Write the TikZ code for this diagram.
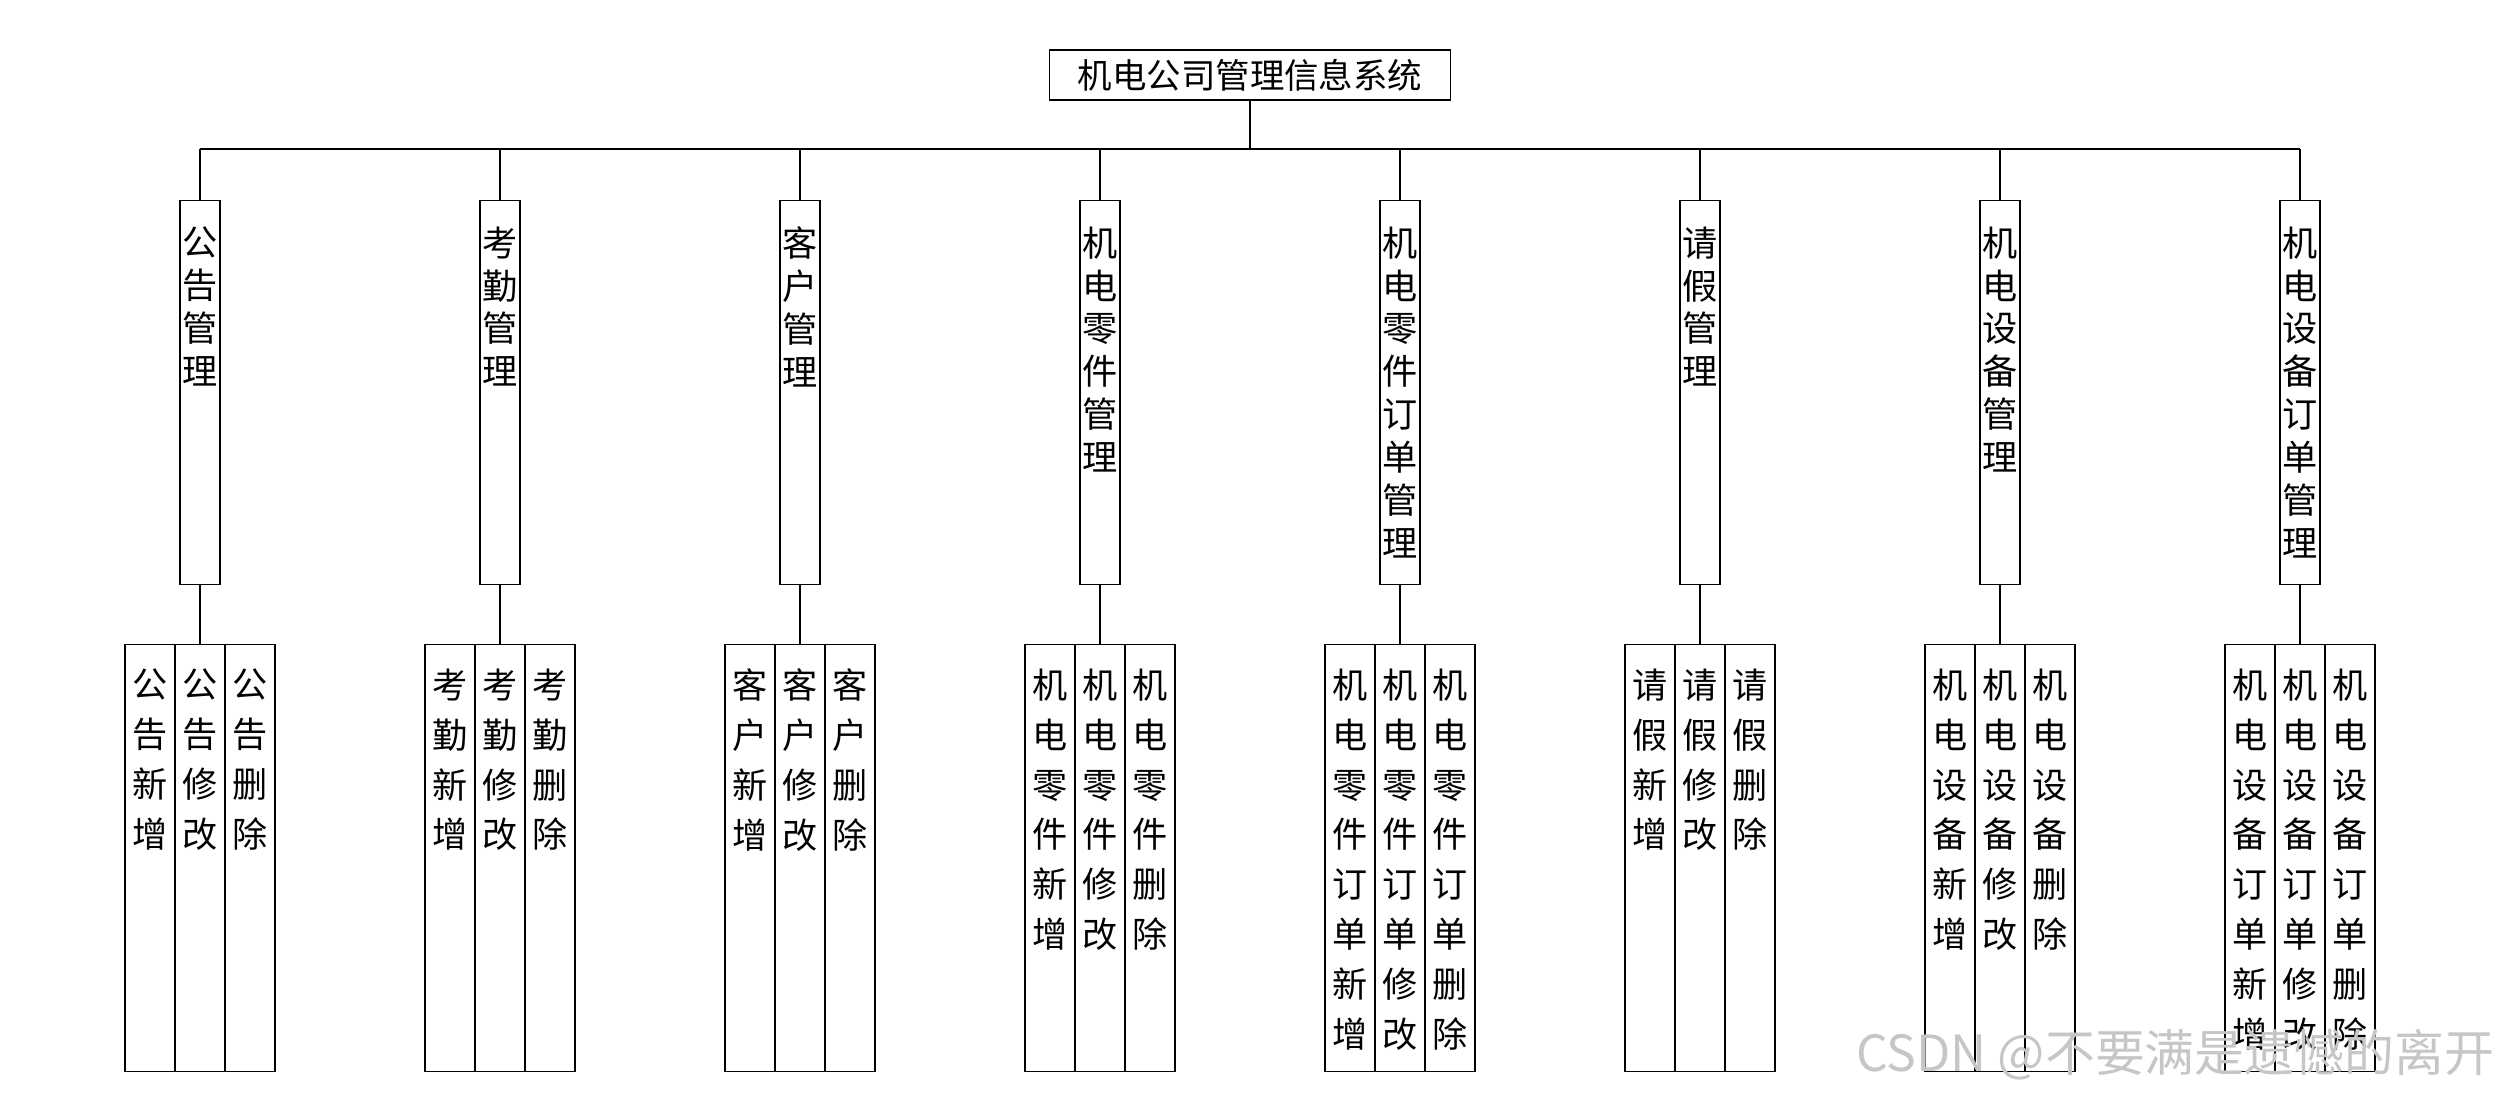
\documentclass[tikz,border=0pt]{standalone}
\usepackage{fontspec}
\newfontfamily\cjk{Noto Sans CJK SC}
\usetikzlibrary{positioning}

\begin{document}
\begin{tikzpicture}[x=1cm,y=1cm,
  sysbox/.style={draw,inner sep=0pt,minimum width=4.01cm,minimum height=0.5cm,font=\cjk\fontsize{9.8pt}{12pt}\selectfont},
  modbox/.style={draw,inner sep=0pt,minimum width=0.4cm,minimum height=3.84cm,anchor=north},
  opbox/.style={draw,inner sep=0pt,minimum width=0.5cm,minimum height=4.27cm,anchor=north},
  modtxt/.style={anchor=north,inner sep=0pt,align=center,font=\cjk\fontsize{10pt}{12.2pt}\selectfont},
  optxt/.style={anchor=north,inner sep=0pt,align=center,font=\cjk\fontsize{10pt}{14.2pt}\selectfont}]
\useasboundingbox (0,0) rectangle (25,11);
\node[sysbox] (sys) at (12.5,10.25) {机电公司管理信息系统};
\coordinate (bus) at (12.5,9.51);
\draw (sys.south) -- (bus);
% modules and their operations
\foreach \i/\x/\pre in {1/2/{公\\告},2/5/{考\\勤},3/8/{客\\户},4/11/{机\\电\\零\\件},
    5/14/{机\\电\\零\\件\\订\\单},6/17/{请\\假},7/20/{机\\电\\设\\备},8/23/{机\\电\\设\\备\\订\\单}} {
  \node[modbox] (m\i) at (\x,9) {};
  \node[modtxt] (mt\i) at ([yshift=-0.26cm]m\i.north) {\pre\\管\\理};
  \draw (m\i.north) -- (m\i.north |- bus);
  \foreach \j/\dx/\op in {1/-0.5/{新\\增},2/0/{修\\改},3/0.5/{删\\除}} {
    \node[opbox] (s\i-\j) at (\x+\dx,4.56) {};
    \node[optxt] (st\i-\j) at ([yshift=-0.24cm]s\i-\j.north) {\pre\\\op};
  }
  \draw (m\i.south) -- (s\i-2.north);
}
\draw (m1.north |- bus) -- (m8.north |- bus);
\node[font=\cjk\fontsize{14.2pt}{16pt}\selectfont,text=gray!45,anchor=east,inner sep=0pt] (wm) at (24.95,0.45) {CSDN @不要满是遗憾的离开};
\end{tikzpicture}
\end{document}
